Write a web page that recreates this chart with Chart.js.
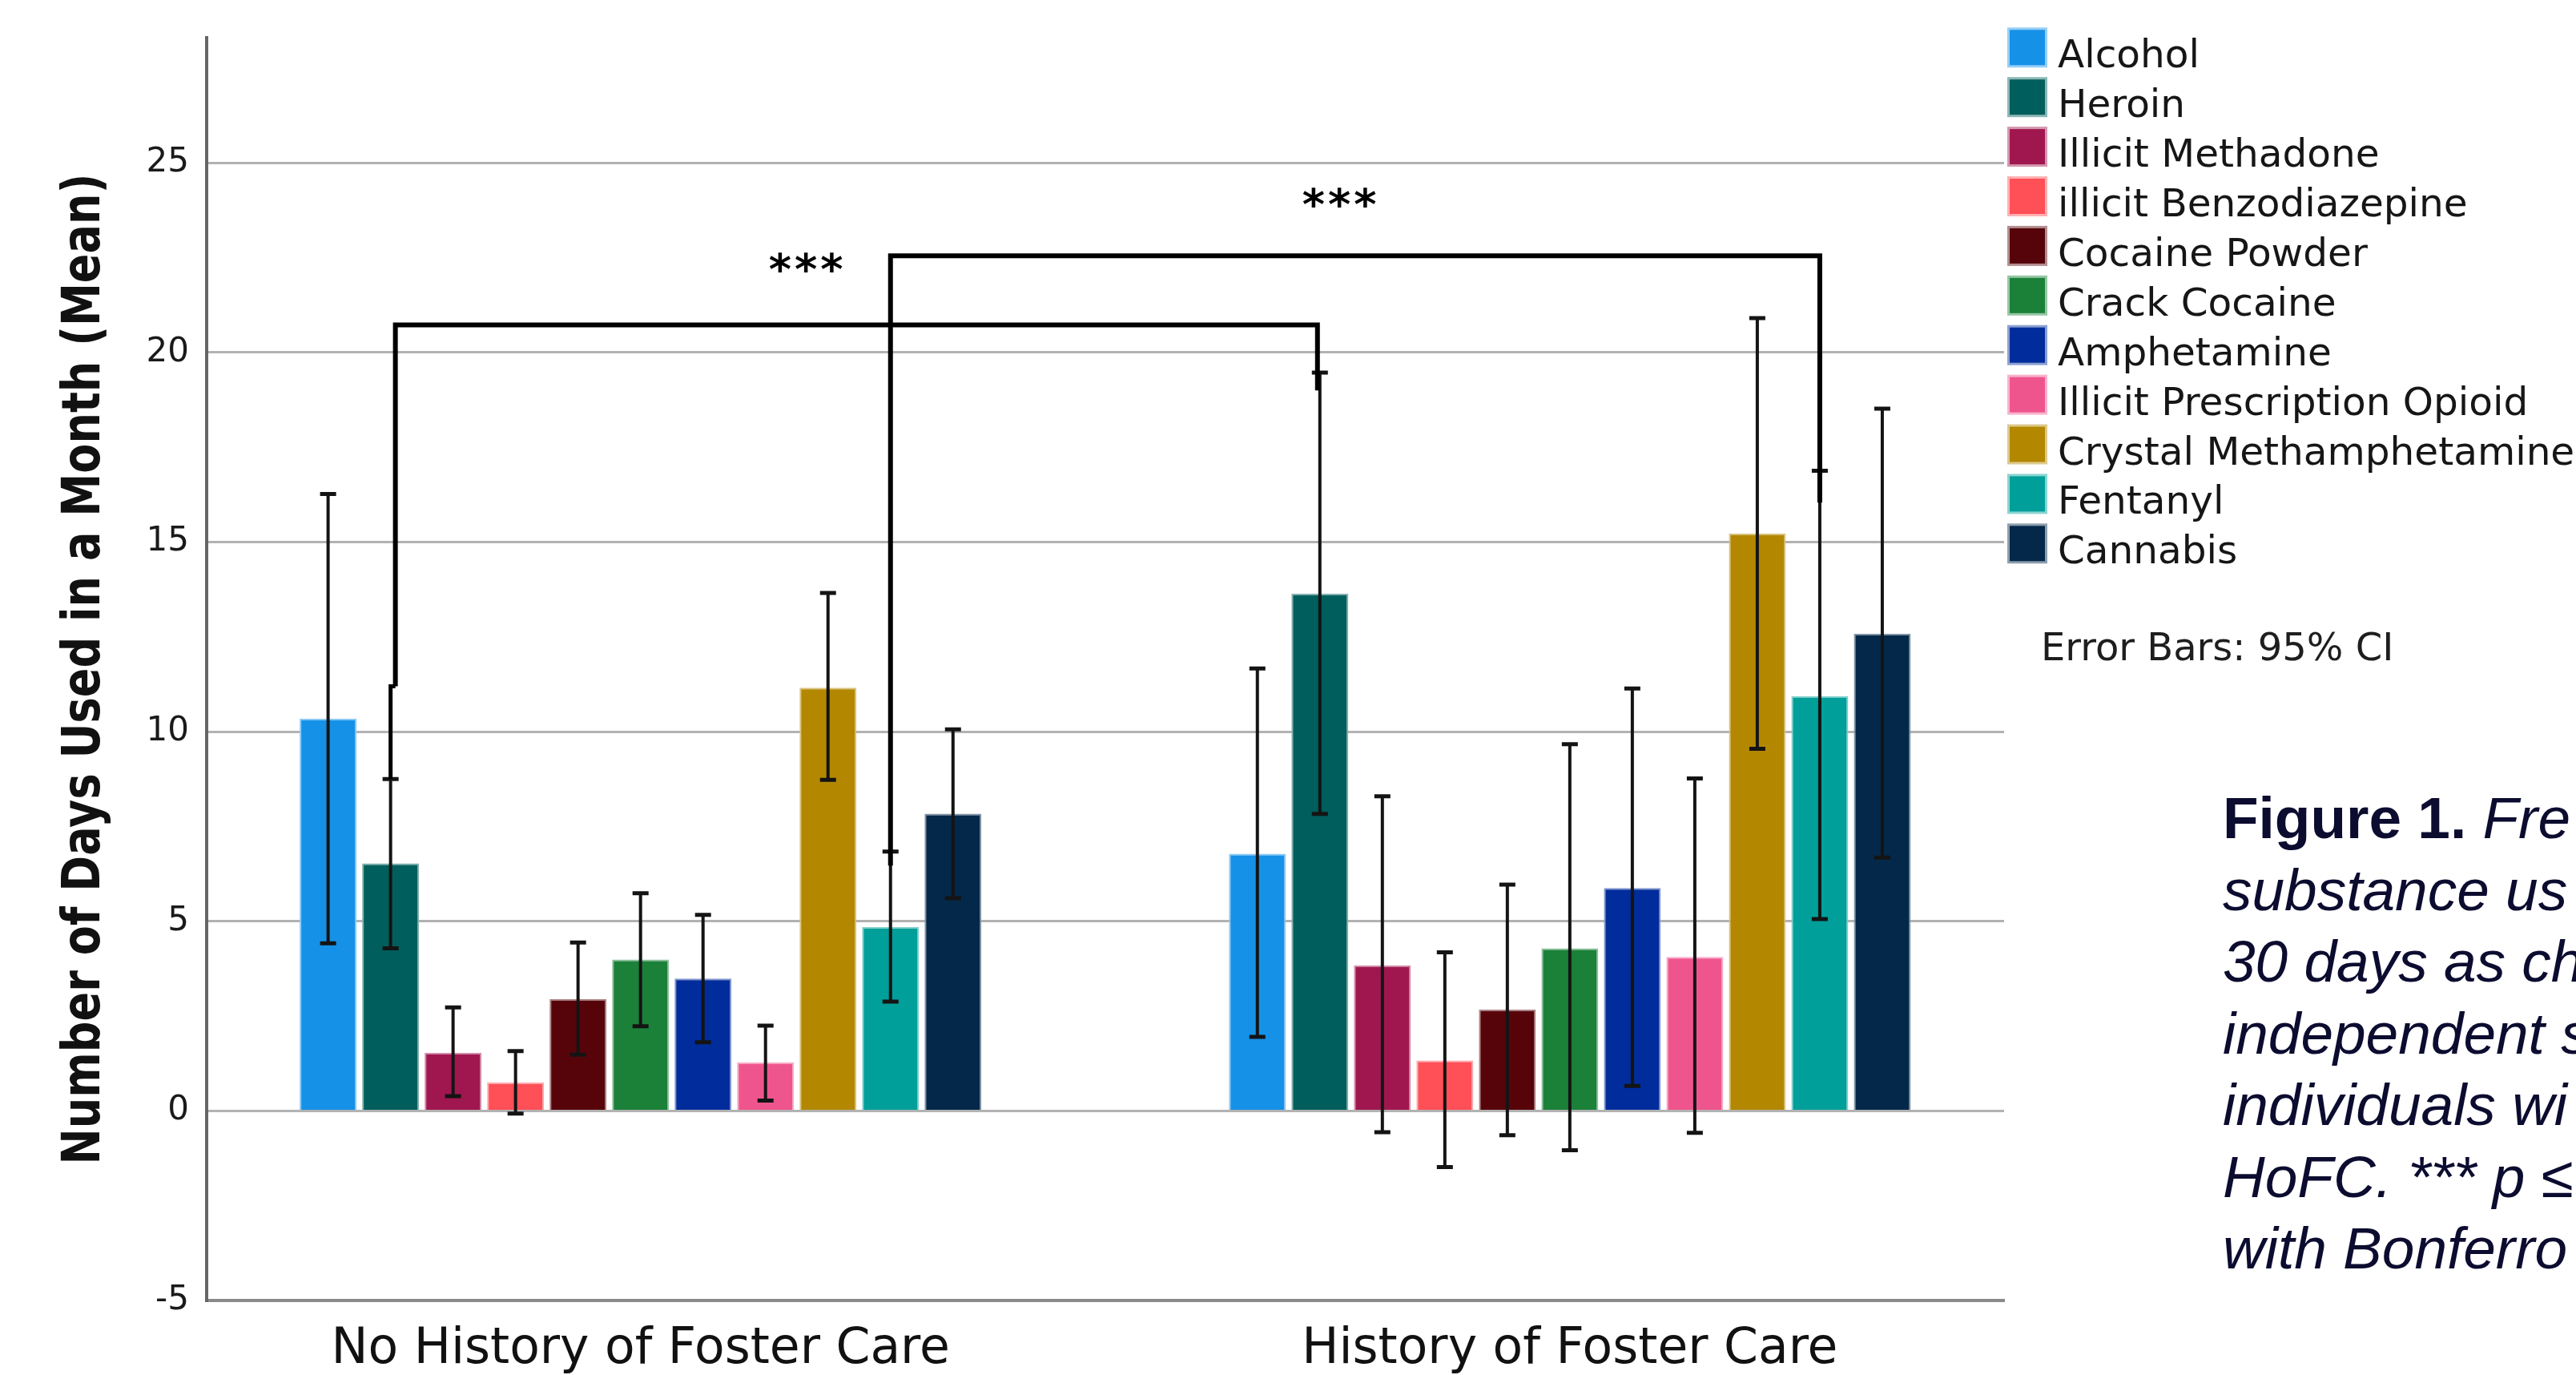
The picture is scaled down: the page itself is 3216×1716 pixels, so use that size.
<!DOCTYPE html>
<html>
<head>
<meta charset="utf-8">
<title>Days of substance use by foster care history</title>
<script src="https://cdn.jsdelivr.net/npm/chart.js@4.4.1/dist/chart.umd.min.js"></script>
<style>
  html, body { margin: 0; padding: 0; background: #ffffff; }
  canvas { display: block; }
</style>
</head>
<body>
<canvas id="chart" width="3216" height="1716"></canvas>
<script>
// ---- data ----
const groups = ['No History of Foster Care', 'History of Foster Care'];
const substances = [
  'Alcohol', 'Heroin', 'Illicit Methadone', 'illicit Benzodiazepine', 'Cocaine Powder',
  'Crack Cocaine', 'Amphetamine', 'Illicit Prescription Opioid', 'Crystal Methamphetamine',
  'Fentanyl', 'Cannabis'
];
const meanNoHistory = [10.34, 6.53, 1.53, 0.75, 2.95, 3.99, 3.49, 1.28, 11.16, 4.85, 7.84];
const lowNoHistory  = [4.42, 4.29, 0.39, -0.07, 1.48, 2.23, 1.81, 0.27, 8.73, 2.88, 5.61];
const highNoHistory = [16.27, 8.75, 2.73, 1.58, 4.44, 5.74, 5.17, 2.25, 13.66, 6.84, 10.06];
const meanHistory   = [6.78, 13.64, 3.84, 1.33, 2.67, 4.29, 5.88, 4.06, 15.23, 10.94, 12.58];
const lowHistory    = [1.95, 7.83, -0.56, -1.48, -0.64, -1.04, 0.66, -0.58, 9.55, 5.06, 6.68];
const highHistory   = [11.67, 19.47, 8.30, 4.18, 5.97, 9.67, 11.14, 8.77, 20.91, 16.88, 18.52];
const yTicks = [-5, 0, 5, 10, 15, 20, 25];
const yTitle = 'Number of Days Used in a Month (Mean)';
const errorNote = 'Error Bars: 95% CI';

// significance brackets joining the same substance across the two groups
const sigSubstances = ['Heroin', 'Fentanyl'];
const sigLevels     = [20.73, 22.55];   // height of the horizontal bar
const sigLeftEnds   = [11.2, 6.47];     // where the left leg stops
const sigRightEnds  = [19.0, 16.04];    // where the right leg stops
const sigMarks      = ['***', '***'];
const sigMarkX      = [0.178, 0.752];   // x value of the star label
const sigMarkY      = [21.8, 23.5];     // y value of the star baseline

const captionBold = 'Figure 1.';
const captionLines = [' Fre', 'substance us', '30 days as ch', 'independent s', 'individuals wi', 'HoFC. *** p \u2264', 'with Bonferro'];

// ---- styles ----
const substanceColors = [
  '#1591e8', '#005e5c', '#a0174f', '#ff4f57', '#56040a',
  '#1b8139', '#012c9b', '#ef558d', '#b38700', '#009f99', '#032849'
];
const X_MIN = -0.4669, X_MAX = 1.4673;

function tint(hex, f) {
  const n = parseInt(hex.slice(1), 16);
  const r = n >> 16, g = (n >> 8) & 255, b = n & 255;
  const m = c => Math.round(c + (255 - c) * f);
  return `rgb(${m(r)},${m(g)},${m(b)})`;
}

const datasets = substances.map((name, i) => ({
  label: name,
  data: [{ x: 0, y: meanNoHistory[i] }, { x: 1, y: meanHistory[i] }],
  ciLow: [lowNoHistory[i], lowHistory[i]],
  ciHigh: [highNoHistory[i], highHistory[i]],
  backgroundColor: substanceColors[i],
  borderColor: tint(substanceColors[i], 0.5),
  borderWidth: 2,
  borderSkipped: 'bottom',
  barPercentage: 0.91,
  categoryPercentage: 0.7397
}));

const FONT = "'DejaVu Sans', sans-serif";

// error bars, brackets, legend, side notes and axis title
const overlay = {
  id: 'overlay',
  afterDatasetsDraw(chart) {
    const ctx = chart.ctx;
    const ys = chart.scales.y;
    ctx.save();
    ctx.strokeStyle = '#141414';
    chart.data.datasets.forEach((ds, i) => {
      const meta = chart.getDatasetMeta(i);
      meta.data.forEach((bar, j) => {
        const top = ys.getPixelForValue(ds.ciHigh[j]);
        const bot = ys.getPixelForValue(ds.ciLow[j]);
        ctx.lineWidth = 4;
        ctx.beginPath();
        ctx.moveTo(bar.x, top);
        ctx.lineTo(bar.x, bot);
        ctx.stroke();
        ctx.lineWidth = 5;
        ctx.beginPath();
        ctx.moveTo(bar.x - 10, top); ctx.lineTo(bar.x + 10, top);
        ctx.moveTo(bar.x - 10, bot); ctx.lineTo(bar.x + 10, bot);
        ctx.stroke();
      });
    });
    ctx.restore();
  },
  afterDraw(chart) {
    const ctx = chart.ctx;
    const xs = chart.scales.x, ys = chart.scales.y;
    const area = chart.chartArea;

    // significance brackets
    ctx.save();
    ctx.strokeStyle = '#000000';
    ctx.lineJoin = 'miter';
    sigSubstances.forEach((name, k) => {
      const idx = substances.indexOf(name);
      const meta = chart.getDatasetMeta(idx);
      const ds = chart.data.datasets[idx];
      const left = meta.data[0], right = meta.data[1];
      const level = ys.getPixelForValue(sigLevels[k]);
      const leftEnd = ys.getPixelForValue(sigLeftEnds[k]);
      const rightEnd = ys.getPixelForValue(sigRightEnds[k]);
      const hi = ds.ciHigh[0];
      const lx = sigLeftEnds[k] > hi ? left.x + 6 : left.x;
      const rx = name === 'Heroin' ? right.x - 3 : right.x;
      ctx.lineWidth = 6;
      ctx.beginPath();
      ctx.moveTo(lx, leftEnd);
      ctx.lineTo(lx, level);
      ctx.lineTo(rx, level);
      ctx.lineTo(rx, rightEnd);
      ctx.stroke();
      if (sigLeftEnds[k] > hi) {
        // leg steps over to meet the error bar cap
        ctx.lineWidth = 5;
        ctx.beginPath();
        ctx.moveTo(lx, leftEnd);
        ctx.lineTo(left.x, leftEnd);
        ctx.lineTo(left.x, ys.getPixelForValue(hi));
        ctx.stroke();
      }
      ctx.fillStyle = '#000000';
      ctx.font = `bold 54px ${FONT}`;
      ctx.letterSpacing = '4px';
      ctx.textAlign = 'center';
      ctx.textBaseline = 'alphabetic';
      ctx.fillText(sigMarks[k], xs.getPixelForValue(sigMarkX[k]) + 2, ys.getPixelForValue(sigMarkY[k]));
      ctx.letterSpacing = '0px';
    });
    ctx.restore();

    // legend
    ctx.save();
    const sw = 50, step = 61.9, top0 = 34.3;
    const swLeft = area.right + 4;
    ctx.font = `48.5px ${FONT}`;
    ctx.textAlign = 'left';
    ctx.textBaseline = 'alphabetic';
    chart.data.datasets.forEach((ds, i) => {
      const t = top0 + i * step;
      ctx.fillStyle = tint(substanceColors[i], 0.55);
      ctx.fillRect(swLeft, t, sw, sw);
      ctx.fillStyle = substanceColors[i];
      ctx.fillRect(swLeft + 3, t + 3, sw - 6, sw - 6);
      ctx.fillStyle = '#161616';
      ctx.fillText(ds.label, swLeft + 63, t + sw);
    });
    ctx.font = `48px ${FONT}`;
    ctx.fillStyle = '#1e1e1e';
    ctx.fillText(errorNote, area.right + 46, 824);
    ctx.restore();

    // y axis title
    ctx.save();
    ctx.translate(124, (area.top + area.bottom) / 2);
    ctx.rotate(-Math.PI / 2);
    ctx.font = `bold 66px ${FONT}`;
    ctx.fillStyle = '#111111';
    ctx.textAlign = 'center';
    ctx.textBaseline = 'alphabetic';
    ctx.fillText(yTitle, 0, 0, 1237);
    ctx.restore();

    // figure caption
    ctx.save();
    ctx.fillStyle = '#0c0c30';
    ctx.textAlign = 'left';
    ctx.textBaseline = 'alphabetic';
    const cx = 2775, cy = 1046, lh = 89.5;
    ctx.font = "bold 73px 'Liberation Sans', Arial, sans-serif";
    ctx.fillText(captionBold, cx, cy);
    const bw = ctx.measureText(captionBold).width;
    ctx.font = "italic 73px 'Liberation Sans', Arial, sans-serif";
    ctx.fillText(captionLines[0], cx + bw, cy);
    for (let i = 1; i < captionLines.length; i++) {
      ctx.fillText(captionLines[i], cx, cy + i * lh);
    }
    ctx.restore();
  }
};

Chart.defaults.font.family = FONT;
Chart.defaults.color = '#1a1a1a';

new Chart(document.getElementById('chart'), {
  type: 'bar',
  data: { datasets },
  options: {
    responsive: false,
    animation: false,
    devicePixelRatio: 1,
    layout: { padding: { top: 31, right: 714, bottom: 0, left: 0 } },
    plugins: {
      legend: { display: false },
      tooltip: { enabled: false }
    },
    scales: {
      x: {
        type: 'linear',
        offset: false,
        bounds: 'data',
        min: X_MIN,
        max: X_MAX,
        afterBuildTicks(scale) {
          scale.ticks = groups.map((g, i) => ({ value: i }));
          scale.min = X_MIN;
          scale.max = X_MAX;
        },
        afterFit(scale) { scale.height = 93; },
        ticks: {
          autoSkip: false,
          maxRotation: 0,
          minRotation: 0,
          padding: 25,
          color: '#111111',
          font: { size: 61.5 },
          callback: (v) => groups[v]
        },
        grid: { display: false, drawTicks: false, offset: false },
        border: { display: true, color: '#8a8a8a', width: 4 }
      },
      y: {
        min: -5,
        max: 28.3,
        afterBuildTicks(scale) { scale.ticks = yTicks.map(v => ({ value: v })); },
        afterFit(scale) { scale.width = 258; },
        ticks: {
          padding: 22,
          color: '#1a1a1a',
          font: { size: 42 },
          callback: (v) => String(v)
        },
        grid: { color: '#b2b2b2', lineWidth: 3, drawTicks: false },
        border: { display: true, color: '#666666', width: 4 }
      }
    }
  },
  plugins: [overlay]
});
</script>
</body>
</html>
